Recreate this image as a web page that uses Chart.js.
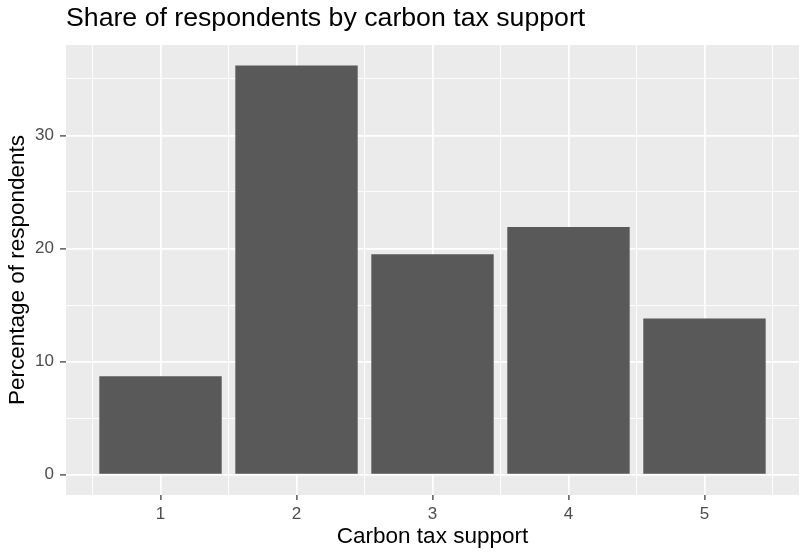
<html>
<head>
    <title>Share of respondents by carbon tax support</title>
    <script src="https://cdn.jsdelivr.net/npm/chart.js"></script>
    <style>
        body { margin: 0; background: #fff; }
    </style>
</head>
<body>
<canvas id="chart" width="810" height="552"></canvas>

<script>
    // data
    const categories = [1, 2, 3, 4, 5];
    const shares = [8.7, 36.2, 19.5, 21.9, 13.8];

    // tick / gridline positions
    const xMajor = [1, 2, 3, 4, 5];
    const xMinor = [0.5, 1.5, 2.5, 3.5, 4.5, 5.5];
    const yMajor = [0, 10, 20, 30];
    const yMinor = [5, 15, 25, 35];

    const FONT = "'Liberation Sans', Arial, sans-serif";

    // grey panel behind the grid, ggplot style
    const panelBg = {
        id: 'panelBg',
        beforeDraw(chart) {
            const {ctx, chartArea: a} = chart;
            ctx.save();
            ctx.fillStyle = '#EBEBEB';
            ctx.fillRect(a.left, a.top, a.right - a.left, a.bottom - a.top);
            ctx.restore();
        }
    };

    const isMajorY = v => yMajor.includes(v);

    const ctx = document.getElementById('chart').getContext('2d');
    const chart = new Chart(ctx, {
        type: 'bar',
        data: {
            datasets: [{
                label: 'Share',
                data: categories.map((c, i) => ({x: c, y: shares[i]})),
                backgroundColor: '#595959',
                borderWidth: 0,
                barPercentage: 0.9,
                categoryPercentage: 1
            }]
        },
        options: {
            responsive: false,
            animation: false,
            layout: {padding: {left: 0, right: 11, top: 0, bottom: 0}},
            plugins: {
                legend: {display: false},
                tooltip: {enabled: false},
                title: {
                    display: true,
                    text: 'Share of respondents by carbon tax support',
                    align: 'start',
                    fullSize: false,
                    color: '#000',
                    font: {family: FONT, size: 26.7, weight: 'normal'},
                    padding: {top: 2.2, bottom: 10.8}
                }
            },
            scales: {
                x: {
                    type: 'linear',
                    offset: false,
                    min: 0.305,
                    max: 5.695,
                    afterBuildTicks: s => { s.ticks = xMajor.map(v => ({value: v})); },
                    afterFit: s => { s.height = 57; },
                    border: {display: false},
                    grid: {
                        offset: false,
                        color: '#FFFFFF',
                        lineWidth: 1.8,
                        tickColor: '#333333',
                        tickWidth: 1.2,
                        tickLength: 5
                    },
                    ticks: {
                        color: '#4D4D4D',
                        font: {family: FONT, size: 17},
                        padding: 4,
                        maxRotation: 0,
                        callback: v => String(v)
                    },
                    title: {
                        display: true,
                        text: 'Carbon tax support',
                        color: '#000',
                        font: {family: FONT, size: 22.5},
                        padding: {top: 0, bottom: 2.2}
                    }
                },
                xMinor: {
                    type: 'linear',
                    position: 'bottom',
                    offset: false,
                    min: 0.305,
                    max: 5.695,
                    afterBuildTicks: s => { s.ticks = xMinor.map(v => ({value: v})); },
                    afterFit: s => { s.height = 0; },
                    border: {display: false},
                    grid: {offset: false, color: '#FFFFFF', lineWidth: 0.9, drawTicks: false},
                    ticks: {display: false}
                },
                y: {
                    min: -1.81,
                    max: 38.0,
                    afterBuildTicks: s => {
                        s.ticks = yMajor.concat(yMinor).sort((a, b) => a - b).map(v => ({value: v}));
                    },
                    afterFit: s => { s.width = 66; },
                    border: {display: false},
                    grid: {
                        color: '#FFFFFF',
                        lineWidth: c => isMajorY(c.tick.value) ? 1.8 : 0.9,
                        tickColor: c => isMajorY(c.tick.value) ? '#333333' : 'rgba(0,0,0,0)',
                        tickWidth: 1.2,
                        tickLength: 6
                    },
                    ticks: {
                        color: '#4D4D4D',
                        font: {family: FONT, size: 17},
                        padding: 6,
                        callback: v => isMajorY(v) ? String(v) : ''
                    },
                    title: {
                        display: true,
                        text: 'Percentage of respondents',
                        color: '#000',
                        font: {family: FONT, size: 22.5},
                        padding: {top: 3.9, bottom: 0}
                    }
                }
            }
        },
        plugins: [panelBg]
    });
</script>
</body>
</html>
